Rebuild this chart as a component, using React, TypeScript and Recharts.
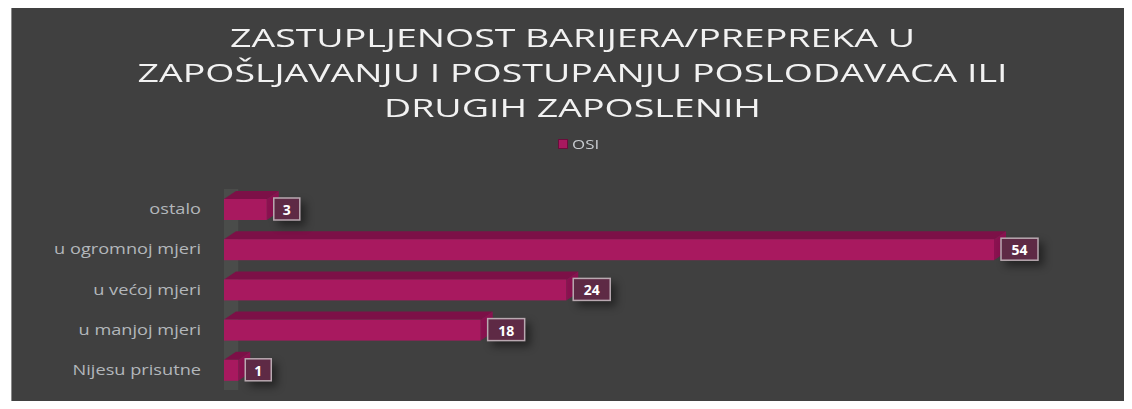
import React from "react"
import {
  BarChart,
  Bar,
  XAxis,
  YAxis,
  Legend,
  LabelList,
  ReferenceArea,
} from "recharts"

const categories = [
  "ostalo",
  "u ogromnoj mjeri",
  "u većoj mjeri",
  "u manjoj mjeri",
  "Nijesu prisutne",
]
const osiValues = [3, 54, 24, 18, 1]
const seriesName = "OSI"
const titleLines = [
  "ZASTUPLJENOST BARIJERA/PREPREKA U",
  "ZAPOŠLJAVANJU I POSTUPANJU POSLODAVACA ILI",
  "DRUGIH ZAPOSLENIH",
]

const data = categories.map((name, i) => ({ name, OSI: osiValues[i] }))

const FRONT = "#a8195f"
const TOP = "#7c1047"
const SIDE = "#8a1250"
const DX = 12
const DY = 8
const STRETCH = 1.3

// 3d-looking bar: front face + top + right side
const Bar3D = (props: any) => {
  const { x, y, width, height } = props
  if (width == null || height == null) return null
  return (
    <g>
      <polygon
        points={`${x},${y} ${x + DX},${y - DY} ${x + width + DX},${y - DY} ${x + width},${y}`}
        fill={TOP}
      />
      <polygon
        points={`${x + width},${y} ${x + width + DX},${y - DY} ${x + width + DX},${y + height - DY} ${x + width},${y + height}`}
        fill={SIDE}
      />
      <rect x={x} y={y} width={width} height={height} fill={FRONT} />
    </g>
  )
}

const ValueBox = (props: any) => {
  const { x, y, width, height, value } = props
  const txt = String(value)
  const w = 15 + 11 * txt.length
  const bx = x + width + 7
  return (
    <g>
      <rect
        x={bx}
        y={y - 1}
        width={w}
        height={height + 1}
        fill="#5e2a45"
        stroke="#b9a9b1"
        strokeWidth={1.5}
        style={{ filter: "drop-shadow(5px 5px 4px rgba(0,0,0,0.45))" }}
      />
      <text
        x={bx + w / 2}
        y={y + height / 2}
        textAnchor="middle"
        dominantBaseline="central"
        fill="#ffffff"
        fontFamily="Open Sans"
        fontWeight={700}
        fontSize={14}
      >
        {txt}
      </text>
    </g>
  )
}

const CategoryTick = (props: any) => {
  const { x, y, payload } = props
  return (
    <g transform={`translate(${x},${y}) scale(${STRETCH},1)`}>
      <text
        x={0}
        y={0}
        textAnchor="end"
        dominantBaseline="central"
        fill="#b3b7bb"
        fontFamily="Open Sans"
        fontSize={14}
      >
        {payload.value}
      </text>
    </g>
  )
}

const renderLegend = () => (
  <div
    style={{
      display: "flex",
      justifyContent: "center",
      alignItems: "center",
      fontFamily: "Open Sans",
      fontSize: 13,
      color: "#c8ccd0",
      paddingLeft: 16,
    }}
  >
    <span
      style={{
        width: 8,
        height: 8,
        background: FRONT,
        border: "1px solid #6a0d3b",
        marginRight: 4,
      }}
    />
    <span
      style={{
        display: "inline-block",
        transform: `scaleX(${STRETCH})`,
        transformOrigin: "0 50%",
        width: 32,
      }}
    >
      {seriesName}
    </span>
  </div>
)

export default function App() {
  return (
    <div
      style={{
        position: "relative",
        width: 1132,
        height: 409,
        margin: -8,
        background: "#ffffff",
        overflow: "hidden",
      }}
    >
      <div
        style={{
          position: "absolute",
          left: 11,
          top: 6,
          width: 1121,
          height: 403,
          background: "#404040",
          borderLeft: "1px solid #8a8a8a",
          borderTop: "1px solid #8a8a8a",
        }}
      >
        <div
          style={{
            position: "absolute",
            left: 0,
            top: 13,
            width: 1121,
            textAlign: "center",
            fontFamily: "Open Sans",
            fontSize: 25,
            lineHeight: "35px",
            color: "#f2f2f2",
          }}
        >
          {titleLines.map((t) => (
            <div
              key={t}
              style={{ transform: "scaleX(1.5)", transformOrigin: "50% 50%" }}
            >
              {t}
            </div>
          ))}
        </div>
        <BarChart
          width={1121}
          height={403}
          data={data}
          layout="vertical"
          margin={{ top: 164, right: 139, left: 0, bottom: 20 }}
        >
          <XAxis type="number" domain={[0, 54]} hide />
          <YAxis
            type="category"
            dataKey="name"
            width={212}
            axisLine={false}
            tickLine={false}
            tickSize={0}
            tickMargin={23}
            tick={<CategoryTick />}
            interval={0}
          />
          <Legend
            verticalAlign="top"
            content={renderLegend}
            wrapperStyle={{ top: 128, left: 0, width: 1121 }}
          />
          <ReferenceArea
            x1={0}
            x2={1}
            fill="#4a4c4a"
            fillOpacity={1}
            stroke="none"
          />
          <Bar
            dataKey="OSI"
            name={seriesName}
            barSize={21}
            shape={<Bar3D />}
            isAnimationActive={false}
          >
            <LabelList dataKey="OSI" content={<ValueBox />} />
          </Bar>
        </BarChart>
      </div>
    </div>
  )
}
